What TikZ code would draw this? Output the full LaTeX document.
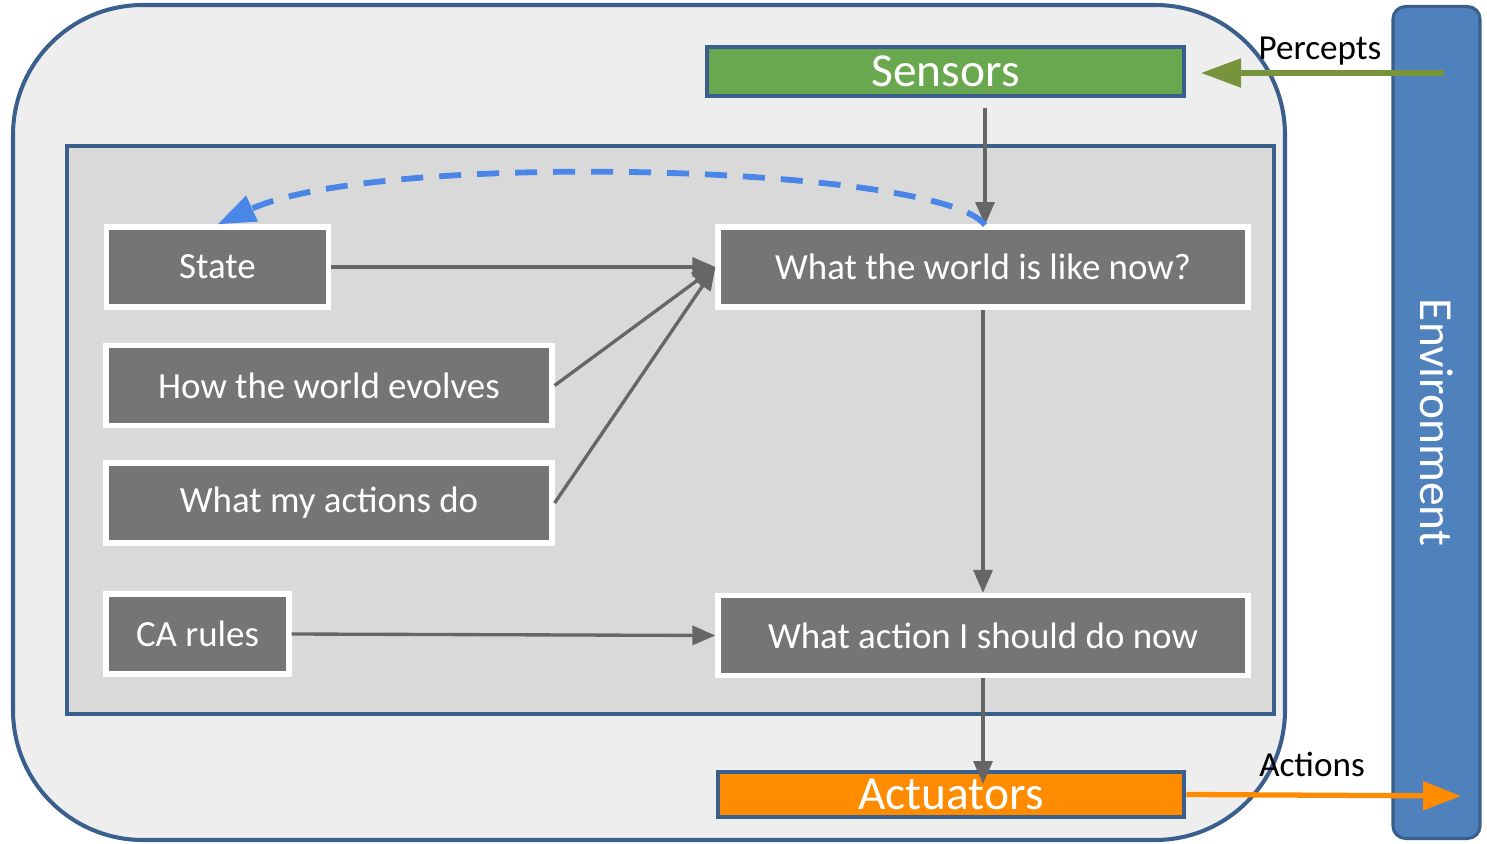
\documentclass[tikz,border=0pt]{standalone}
\usepackage{fontspec}
\setmainfont{Carlito}
\usetikzlibrary{arrows.meta}
\definecolor{frameblue}{HTML}{3A5F8D}
\definecolor{outerfill}{HTML}{EEEEEE}
\definecolor{innerfill}{HTML}{D9D9D9}
\definecolor{boxgray}{HTML}{757575}
\definecolor{linkgray}{HTML}{666666}
\definecolor{sensgreen}{HTML}{6AA84F}
\definecolor{actorange}{HTML}{FF8C00}
\definecolor{envblue}{HTML}{4F81BD}
\definecolor{memblue}{HTML}{4A86E8}
\definecolor{percolive}{HTML}{77933C}
\begin{document}
\begin{tikzpicture}[x=0.02cm, y=-0.02cm,
    box/.style={draw=white, line width=3pt, fill=boxgray, text=white,
      font=\fontsize{21}{25}\selectfont, inner sep=0pt, minimum height=1.6cm},
    io/.style={draw=frameblue, line width=2.3pt, text=white,
      font=\fontsize{27}{32}\selectfont, inner sep=0pt},
    link/.style={draw=linkgray, line width=1.9pt, -{Triangle[length=0.46cm, width=0.38cm]}},
    lbl/.style={font=\fontsize{20}{24}\selectfont}]
    \useasboundingbox (0,0) rectangle (1487,844);

    % Agent
    \draw[frameblue, line width=2.3pt, fill=outerfill, rounded corners=2.6cm] (13,5) rectangle (1285,840);
    \draw[frameblue, line width=2.3pt, fill=innerfill] (67,146) rectangle (1274,714);

    % Environment
    \node[draw=frameblue, line width=1.8pt, fill=envblue, rounded corners=0.25cm, rotate=-90,
      minimum width=16.64cm, minimum height=1.74cm, inner sep=0pt, text=white,
      font=\fontsize{27}{32}\selectfont] (env) at (1436.5,422.5) {Environment};

    % Sensors and actuators
    \node[io, fill=sensgreen, minimum width=9.56cm, minimum height=0.98cm] (sensors) at (945.5,71.5) {Sensors};
    \node[io, fill=actorange, minimum width=9.34cm, minimum height=0.9cm] (actuators) at (951,794.5) {Actuators};

    % Inner boxes
    \node[box, minimum width=4.44cm] (state) at (217.5,267) {State};
    \node[box, minimum width=8.92cm] (evolves) at (329,385.5) {How the world evolves};
    \node[box, minimum width=8.92cm] (myactions) at (329,503) {What my actions do};
    \node[box, minimum width=3.66cm] (rules) at (197.5,634) {CA rules};
    \node[box, minimum width=10.6cm] (worldnow) at (983,267) {What the world is like now?};
    \node[box, minimum width=10.6cm] (todo) at (983,635.5) {What action I should do now};

    % Free ends
    \coordinate (sensout) at (985,108);
    \coordinate (worldin) at (985,225);
    \coordinate (actin) at (983,784);
    \coordinate (envout) at (1444,73);
    \coordinate (sensin) at (1201,73);
    \coordinate (envin) at (1461,796);

    % Connectors
    \draw[link] (sensout) -- (worldin);
    \draw[link] (state.east) -- (worldnow.west);
    \draw[link] (evolves.east) -- (worldnow.west);
    \draw[link] (myactions.east) -- (worldnow.west);
    \draw[link] (rules.east) -- (todo.west);
    \draw[link] (worldnow.south) -- (todo.north);
    \draw[link] (todo.south) -- (actin);

    % Memory loop
    \draw[memblue, line width=3.3pt, dash pattern=on 0.44cm off 0.32cm,
      -{Triangle[length=0.76cm, width=0.54cm]}]
      (worldin) .. controls (940,165) and (380,150) .. (state.north);

    % Percepts and actions
    \draw[percolive, line width=3pt, -{Triangle[length=0.8cm, width=0.56cm]}] (envout) -- (sensin);
    \draw[actorange, line width=3pt, -{Triangle[length=0.76cm, width=0.56cm]}] (actuators.east) -- (envin);
    \node[lbl] (percepts) at (1320,51) {Percepts};
    \node[lbl] (actions) at (1312,764) {Actions};
\end{tikzpicture}
\end{document}
